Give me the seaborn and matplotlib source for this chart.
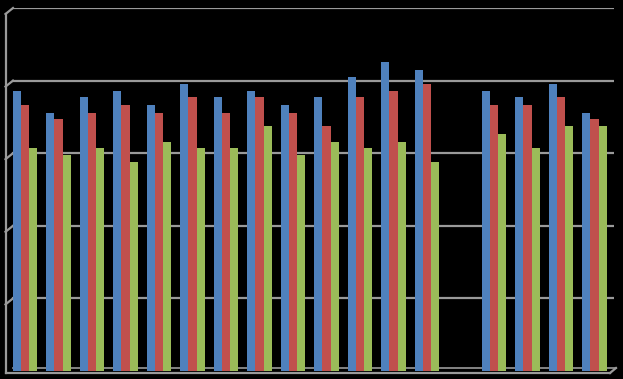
import numpy as np
import pandas as pd
import matplotlib
matplotlib.use("Agg")
import matplotlib.pyplot as plt
import seaborn as sns

# ---- data (gridline spacing = 1 unit) ----
categories = [str(i) for i in range(1, 19)]   # slot 14 is empty in the chart
series_names = ["Series 1", "Series 2", "Series 3"]
series1 = [3.86, 3.56, 3.77, 3.86, 3.67, 3.96, 3.77, 3.86, 3.67, 3.77, 4.05, 4.25, 4.15,
           np.nan, 3.86, 3.77, 3.96, 3.56]
series2 = [3.67, 3.47, 3.56, 3.67, 3.56, 3.77, 3.56, 3.77, 3.56, 3.37, 3.77, 3.86, 3.96,
           np.nan, 3.67, 3.67, 3.77, 3.47]
series3 = [3.07, 2.97, 3.07, 2.88, 3.16, 3.07, 3.07, 3.37, 2.97, 3.16, 3.07, 3.16, 2.88,
           np.nan, 3.26, 3.07, 3.37, 3.37]
colors = ["#4F81BD", "#C0504D", "#9BBB59"]
y_ticks = [0, 1, 2, 3, 4, 5]

rows = []
for name, vals in zip(series_names, [series1, series2, series3]):
    for c, v in zip(categories, vals):
        rows.append({"category": c, "series": name, "value": v})
df = pd.DataFrame(rows)

W, H = 623, 379
fig = plt.figure(figsize=(W / 100, H / 100), dpi=100, facecolor="black")

def px(x, y):
    return x / W, 1 - y / H

# axes: slot centres at 25 + 33.5*i px
x_left, x_right = 6, 614
y_top, y_bot = 8, 371
ax = fig.add_axes([x_left / W, 1 - y_bot / H, (x_right - x_left) / W, (y_bot - y_top) / H])
ax.set_facecolor("black")

sns.barplot(data=df, x="category", y="value", hue="series", order=categories,
            hue_order=series_names, palette=colors, width=0.72, gap=0,
            saturation=1, edgecolor="none", linewidth=0, legend=False, ax=ax, zorder=3)

slot = 33.5
c0 = 25
ax.set_xlim((x_left - c0) / slot, (x_right - c0) / slot)
ax.set_ylim(0, 5)
ax.set_xticks([])
ax.set_yticks([])
ax.set_xlabel("")
ax.set_ylabel("")
for s in ax.spines.values():
    s.set_visible(False)

grid_col = "#9A9A9A"
lw = 1.6
# horizontal gridlines (back wall) with perspective diagonals to the left wall
for t in y_ticks[1:]:
    ax.axhline(t, xmin=(13 - x_left) / (x_right - x_left), xmax=1, color=grid_col, lw=lw, zorder=1)
    ypix = y_bot - t * (y_bot - y_top) / 5
    p1 = px(5.5, ypix + 6)
    p2 = px(13, ypix)
    ax.plot([p1[0], p2[0]], [p1[1], p2[1]], color=grid_col, lw=lw,
            transform=fig.transFigure, clip_on=False, zorder=1)
# left wall edge
p1, p2 = px(5.5, 14), px(5.5, 373)
ax.plot([p1[0], p2[0]], [p1[1], p2[1]], color=grid_col, lw=lw,
        transform=fig.transFigure, clip_on=False, zorder=1)
# floor back edge and front edge
p1, p2 = px(13, 368), px(616, 368)
ax.plot([p1[0], p2[0]], [p1[1], p2[1]], color=grid_col, lw=1.2,
        transform=fig.transFigure, clip_on=False, zorder=1)
p1, p2 = px(5.5, 373), px(610, 373)
ax.plot([p1[0], p2[0]], [p1[1], p2[1]], color=grid_col, lw=lw,
        transform=fig.transFigure, clip_on=False, zorder=4)
p1, p2 = px(610, 373), px(616, 368)
ax.plot([p1[0], p2[0]], [p1[1], p2[1]], color=grid_col, lw=lw,
        transform=fig.transFigure, clip_on=False, zorder=4)

fig.savefig("out.png", dpi=100, facecolor="black")
